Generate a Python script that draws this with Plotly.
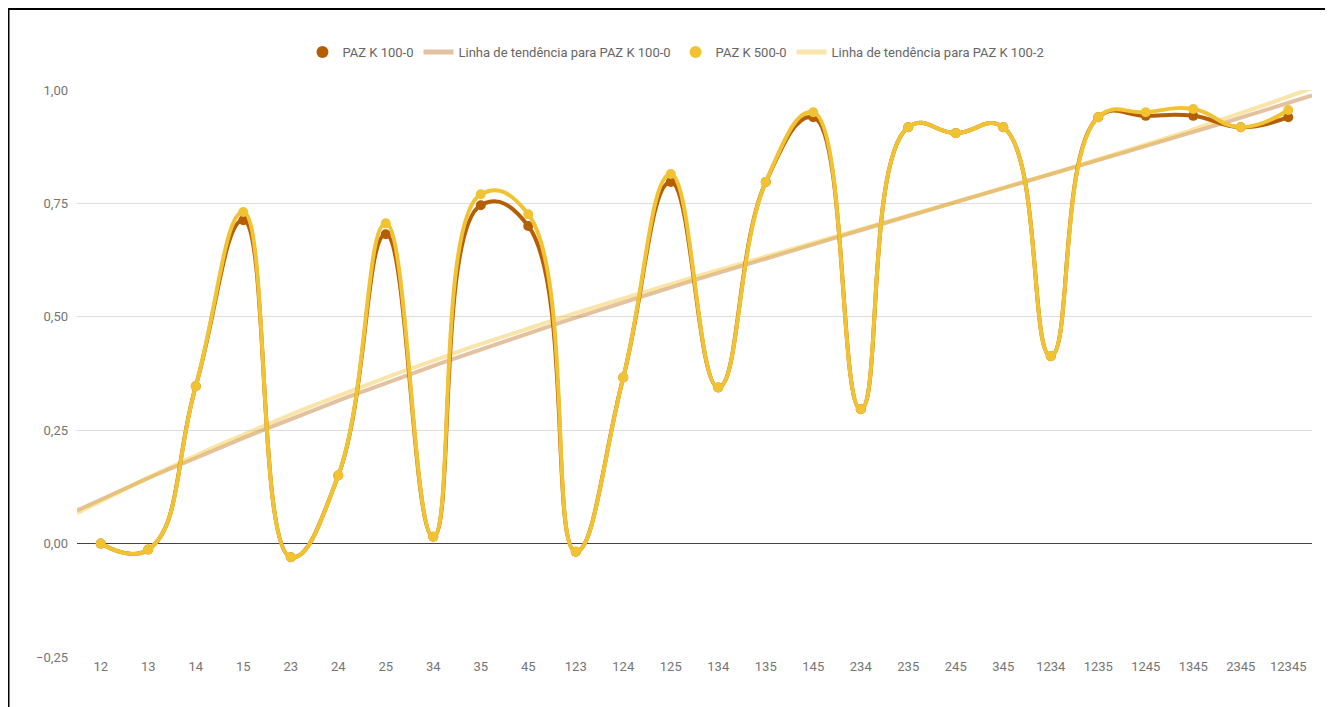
import numpy as np
import plotly.graph_objects as go

# ── data ────────────────────────────────────────────────────────
categories = ["12", "13", "14", "15", "23", "24", "25", "34", "35", "45",
              "123", "124", "125", "134", "135", "145", "234", "235", "245", "345",
              "1234", "1235", "1245", "1345", "2345", "12345"]

paz_100_0 = [0.000, -0.013, 0.347, 0.713, -0.030, 0.150, 0.682, 0.015, 0.746, 0.700,
             -0.018, 0.366, 0.797, 0.344, 0.797, 0.940, 0.296, 0.918, 0.905, 0.918,
             0.413, 0.940, 0.943, 0.943, 0.918, 0.940]

paz_500_0 = [0.000, -0.013, 0.347, 0.731, -0.030, 0.150, 0.706, 0.015, 0.770, 0.726,
             -0.018, 0.366, 0.815, 0.344, 0.797, 0.951, 0.296, 0.918, 0.905, 0.918,
             0.413, 0.940, 0.951, 0.958, 0.918, 0.956]

y_ticks = [-0.25, 0.0, 0.25, 0.5, 0.75, 1.0]

_BROWN = "#b45f06"
_YELLOW = "#f1c232"
_TREND_BROWN = "rgba(180,95,6,0.38)"
_TREND_YELLOW = "rgba(241,194,50,0.42)"
_TXT = "#757575"
_FONT = dict(family="Roboto, Arial, sans-serif", size=13, color=_TXT)

# page adds an 8px body margin, so the figure is 8px smaller than the window
W, H = 1325, 699
ML, MR, MT, MB = 69, 21, 82, 50

x_idx = np.arange(len(categories))
x_fit = np.linspace(-0.5, len(categories) - 0.5, 120)


def _trend(vals, deg=3):
    coef = np.polyfit(x_idx, np.array(vals), deg)
    return np.polyval(coef, x_fit)


fig = go.Figure()

# trend lines sit underneath the series
fig.add_trace(go.Scatter(
    x=x_fit, y=_trend(paz_100_0), mode="lines", showlegend=False,
    line=dict(color=_TREND_BROWN, width=4), hoverinfo="skip"))
fig.add_trace(go.Scatter(
    x=x_fit, y=_trend(paz_500_0), mode="lines", showlegend=False,
    line=dict(color=_TREND_YELLOW, width=4), hoverinfo="skip"))

fig.add_trace(go.Scatter(
    x=x_idx, y=paz_100_0, mode="lines+markers", showlegend=False,
    line=dict(color=_BROWN, width=4, shape="spline", smoothing=1.3),
    marker=dict(color=_BROWN, size=10)))
fig.add_trace(go.Scatter(
    x=x_idx, y=paz_500_0, mode="lines+markers", showlegend=False,
    line=dict(color=_YELLOW, width=4, shape="spline", smoothing=1.3),
    marker=dict(color=_YELLOW, size=10)))

# legend entries (Google-Sheets style: dots for series, bars for trends)
fig.add_trace(go.Scatter(x=[None], y=[None], mode="markers", name="PAZ K 100-0",
                         marker=dict(color=_BROWN, size=12)))
fig.add_trace(go.Scatter(x=[None], y=[None], mode="lines",
                         name="Linha de tendência para PAZ K 100-0",
                         line=dict(color=_TREND_BROWN, width=5)))
fig.add_trace(go.Scatter(x=[None], y=[None], mode="markers", name="PAZ K 500-0",
                         marker=dict(color=_YELLOW, size=12)))
fig.add_trace(go.Scatter(x=[None], y=[None], mode="lines",
                         name="Linha de tendência para PAZ K 100-2",
                         line=dict(color=_TREND_YELLOW, width=5)))

pw, ph = W - ML - MR, H - MT - MB
fig.add_shape(type="rect", xref="paper", yref="paper",
              x0=(0.5 - ML) / pw, x1=(W - 1 - ML) / pw,
              y0=(H - MB - (H + 5)) / ph, y1=(H - MB - 1) / ph,
              line=dict(color="#000000", width=2), layer="above")

fig.update_layout(
    width=W, height=H,
    paper_bgcolor="white", plot_bgcolor="white",
    margin=dict(l=ML, r=MR, t=MT, b=MB, autoexpand=False),
    font=_FONT, separators=",.",
    showlegend=True,
    legend=dict(orientation="h", x=0.485, xanchor="center", y=1.067, yanchor="middle",
                font=dict(family="Roboto, Arial, sans-serif", size=13, color="#666666"),
                itemwidth=30, bgcolor="rgba(0,0,0,0)"),
    xaxis=dict(range=[-0.5, len(categories) - 0.5], tickmode="array",
               tickvals=list(x_idx), ticktext=categories, showgrid=False,
               zeroline=False, showline=False, ticks="", tickfont=_FONT),
    yaxis=dict(range=[-0.25, 1.0], tickmode="array", tickvals=y_ticks,
               tickformat=".2f", showgrid=True, gridcolor="#dddddd", gridwidth=1,
               zeroline=True, zerolinecolor="#444444", zerolinewidth=1,
               showline=False, ticks="", ticklabelstandoff=8, tickfont=_FONT),
)

fig.write_html("out.html")
